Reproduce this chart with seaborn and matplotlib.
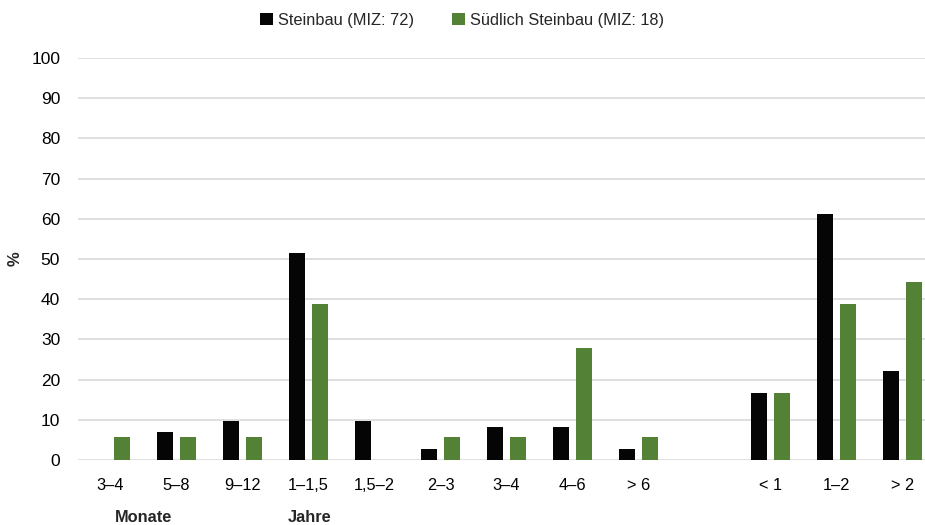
import matplotlib
matplotlib.use("Agg")
import matplotlib.pyplot as plt
import seaborn as sns
import pandas as pd
import numpy as np

labels = ["3–4", "5–8", "9–12", "1–1,5", "1,5–2", "2–3", "3–4", "4–6", "> 6", "", "< 1", "1–2", "> 2"]
steinbau = [0, 6.9, 9.7, 51.4, 9.7, 2.8, 8.3, 8.3, 2.8, np.nan, 16.7, 61.1, 22.2]
suedlich = [5.6, 5.6, 5.6, 38.9, 0, 5.6, 5.6, 27.8, 5.6, np.nan, 16.7, 38.9, 44.4]
series = ["Steinbau (MIZ: 72)", "Südlich Steinbau (MIZ: 18)"]
colors = ["#050505", "#538135"]

keys = [str(i) for i in range(len(labels))]
df = pd.DataFrame({
    "key": keys * 2,
    "value": steinbau + suedlich,
    "series": [series[0]] * len(keys) + [series[1]] * len(keys),
})

sns.set_theme(style="white")
plt.rcParams["font.family"] = ["Liberation Sans", "DejaVu Sans"]

fig = plt.figure(figsize=(9.25, 5.25), dpi=100)
ax = fig.add_axes([77.5 / 925, 65 / 525, 1 - 77.5 / 925, (460 - 58) / 525])

sns.barplot(data=df, x="key", y="value", hue="series", order=keys, hue_order=series,
            palette=colors, width=0.7, gap=0.3, linewidth=0, saturation=1, ax=ax, legend=True)

ax.set_xlim(-0.5, -0.5 + (925 - 77.5) / 66)
ax.set_ylim(0, 100)
ax.set_yticks(range(0, 101, 10))
ax.yaxis.grid(True, color="#d9d9d9", linewidth=1.2)
ax.set_axisbelow(True)
for s in ax.spines.values():
    s.set_visible(False)
ax.set_xticks(range(len(labels)))
ax.set_xticklabels(labels)
ax.tick_params(axis="x", length=0, pad=13, labelsize=11.8, colors="#000000")
ax.tick_params(axis="y", length=0, pad=12.5, labelsize=12.5, colors="#000000")
ax.set_xlabel("")
ax.set_ylabel("")

fig.text(15 / 925, 1 - 259 / 525, "%", rotation=90, ha="center", va="center",
         fontsize=12, fontweight="bold")

handles, lbls = ax.get_legend_handles_labels()
ax.legend_.remove()
fig.legend(handles, lbls, loc="center", bbox_to_anchor=(462 / 925, 1 - 20 / 525), ncol=2,
           frameon=False, fontsize=11.8, handlelength=0.8, handleheight=0.8,
           handletextpad=0.3, columnspacing=2.3)

fig.text(143 / 925, 1 - 517 / 525, "Monate", ha="center", va="center", fontsize=11.8, fontweight="bold")
fig.text(310 / 925, 1 - 517 / 525, "Jahre", ha="center", va="center", fontsize=11.8, fontweight="bold")

fig.savefig("out.png", dpi=100)
